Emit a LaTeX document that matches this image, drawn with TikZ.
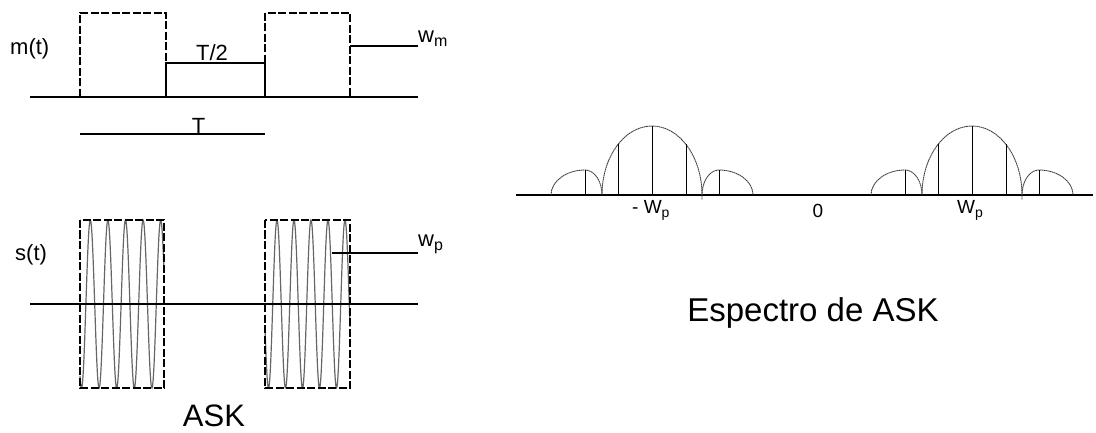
\documentclass[tikz,border=0pt]{standalone}
\usepackage{fontspec}
\setmainfont{Liberation Sans}
\newcommand\lowsub[2][13]{\raisebox{-3.5pt}{\fontsize{#1}{#1}\selectfont #2}}
\begin{document}
\begin{tikzpicture}[x=1pt,y=-1pt,
  axis/.style={line width=1.1pt},
  pulsebox/.style={line width=1.1pt, dash pattern=on 8pt off 2.5pt},
  carrier/.style={line width=1.2pt, black!60},
  lobe/.style={line width=0.9pt, black!75, dash pattern=on 1.6pt off 0.5pt},
  stem/.style={line width=1pt},
  lbl/.style={inner sep=0pt, font=\fontsize{22}{24}\selectfont}
]
\useasboundingbox (0,0) rectangle (1096,433);

% ---------- m(t) ----------
\draw[axis] (30,97) -- (418,97);
\draw[pulsebox] (80,97) -- (80,13) -- (166,13) -- (166,63);
\draw[axis] (166,97) -- (166,63) -- (265,63) -- (265,97);
\draw[pulsebox] (265,63) -- (265,13) -- (350,13) -- (350,97);
\draw[axis] (350,46) -- (418,46);
\draw[axis] (80,134) -- (265,134);

\node[lbl, anchor=base west] (mt) at (10,55) {m(t)};
\node[lbl, anchor=base] (half) at (212,61) {T/2};
\node[lbl, anchor=base] (per) at (198.5,134) {T};
\node[lbl, anchor=base west] (wm) at (418,43) {w\lowsub[16]{m}};

% ---------- s(t) ----------
\draw[carrier] plot[domain=80:164, samples=260, smooth] (\x, {304+84*cos(20.4545*(\x-81.5))});
\draw[carrier] plot[domain=265:350, samples=260, smooth] (\x, {304-84*cos(21.1765*(\x-277))});
\draw[axis] (30,304) -- (418,304);
\draw[pulsebox] (80,220) rectangle (164,388);
\draw[pulsebox] (265,220) rectangle (350,388);
\draw[axis] (332,253) -- (418,253);

\node[lbl, anchor=base west] (st) at (15,261) {s(t)};
\node[lbl, anchor=base west] (wp) at (418,247) {w\lowsub[16]{p}};
\node[lbl, anchor=base, font=\fontsize{31}{33}\selectfont] (ask) at (214,426) {ASK};

% ---------- spectrum ----------
\draw[axis] (516,195) -- (1093,195);
\foreach \c in {652,972}{
  % left side lobe
  \draw[lobe] ({\c-101},195) .. controls ({\c-101},{195-0.5523*25}) and ({\c-67-0.5523*34},170) .. ({\c-67},170)
              .. controls ({\c-67+0.5523*17},170) and ({\c-50},{170+0.4477*25}) .. ({\c-50},195);
  % main lobe
  \draw[lobe] ({\c-50},195) .. controls ({\c-50},{195-0.5523*69}) and ({\c-0.5523*50},126) .. (\c,126)
              .. controls ({\c+0.5523*50},126) and ({\c+50},{195-0.5523*69}) .. ({\c+50},195) -- ({\c+50},200);
  % right side lobe
  \draw[lobe] ({\c+50},195) .. controls ({\c+50},{170+0.4477*25}) and ({\c+67-0.5523*17},170) .. ({\c+67},170)
              .. controls ({\c+67+0.5523*34},170) and ({\c+101},{195-0.5523*25}) .. ({\c+101},195);
  % spectral lines
  \draw[stem] (\c,195) -- (\c,126);
  \draw[stem] ({\c-34},195) -- ({\c-34},144.5);
  \draw[stem] ({\c+34},195) -- ({\c+34},144.5);
  \draw[stem] ({\c-67},195) -- ({\c-67},170);
  \draw[stem] ({\c+67},195) -- ({\c+67},170);
}
\node[lbl, anchor=base west, font=\fontsize{19}{21}\selectfont] (mwp) at (632,214) {- W\lowsub[14]{p}};
\node[lbl, anchor=base, font=\fontsize{19}{21}\selectfont] (zero) at (818,218) {0};
\node[lbl, anchor=base west, font=\fontsize{19}{21}\selectfont] (pwp) at (957,214) {W\lowsub[14]{p}};
\node[lbl, anchor=base, font=\fontsize{33}{35}\selectfont] (esp) at (813,321) {Espectro de ASK};
\end{tikzpicture}
\end{document}
